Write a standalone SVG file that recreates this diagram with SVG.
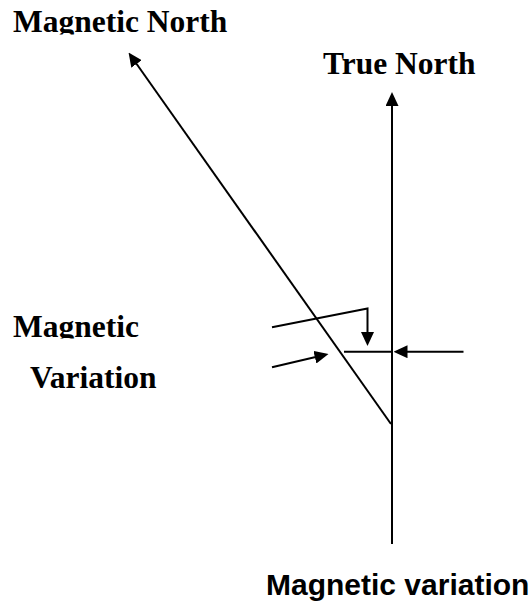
<svg xmlns="http://www.w3.org/2000/svg" width="532" height="605" viewBox="0 0 532 605">
  <style>
    .lbl { font-family: "Liberation Serif", "Times New Roman", serif; font-weight: bold; font-size: 31.5px; fill: #000; }
    .cap { font-family: "Liberation Sans", Arial, sans-serif; font-weight: bold; font-size: 30px; fill: #000; }
    .ln { stroke: #000; stroke-width: 2; fill: none; }
  </style>
  <defs>
    <marker id="ah" viewBox="0 0 14 13" refX="3" refY="6.5" markerWidth="14" markerHeight="13" markerUnits="userSpaceOnUse" orient="auto">
      <path d="M0,0 L14,6.5 L0,13 z" fill="#000"/>
    </marker>
    <clipPath id="clipTop"><rect x="0" y="0" width="532" height="34.5"/></clipPath>
    <clipPath id="clipMag"><rect x="0" y="300" width="200" height="38.5"/></clipPath>
  </defs>
  <rect width="532" height="605" fill="#fff"/>

  <g id="connectors">
    <line class="ln" x1="392" y1="544" x2="392" y2="103" marker-end="url(#ah)"/>
    <line class="ln" x1="391" y1="424" x2="134.9" y2="61.5" marker-end="url(#ah)"/>
    <polyline class="ln" points="272,327.3 367.5,308.5 367.5,335" marker-end="url(#ah)"/>
    <line class="ln" x1="272" y1="367.3" x2="317.8" y2="356.5" marker-end="url(#ah)"/>
    <line class="ln" x1="344" y1="351.7" x2="392" y2="351.7"/>
    <line class="ln" x1="463.5" y1="351.7" x2="404.5" y2="351.7" marker-end="url(#ah)"/>
  </g>

  <g id="magnetic-north">
    <text class="lbl" x="13" y="32.3" clip-path="url(#clipTop)">Magnetic North</text>
  </g>
  <g id="true-north">
    <text class="lbl" x="323" y="74">True North</text>
  </g>
  <g id="magnetic-variation-label">
    <text class="lbl" x="13" y="336.7" clip-path="url(#clipMag)">Magnetic</text>
    <text class="lbl" x="30" y="388">Variation</text>
  </g>
  <g id="caption">
    <text class="cap" x="266" y="595">Magnetic variation</text>
  </g>
</svg>
